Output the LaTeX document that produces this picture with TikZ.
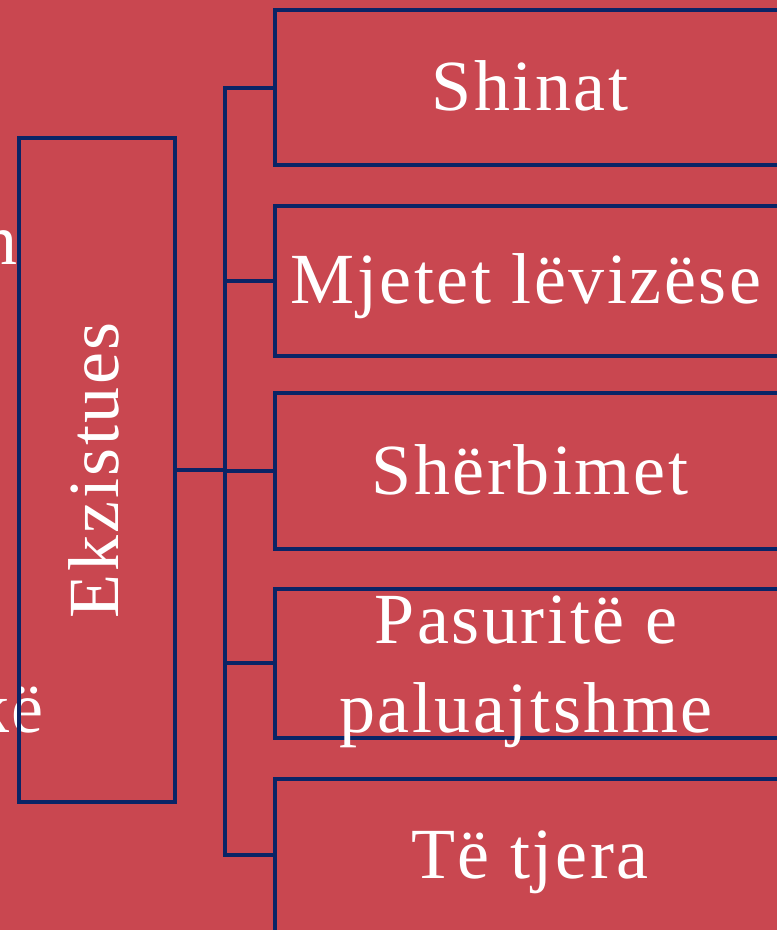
\documentclass[tikz,border=0pt]{standalone}
\usepackage{fontspec}
\setmainfont{Liberation Serif}[LetterSpace=3.5]
\definecolor{bg}{RGB}{201,71,80}
\definecolor{navy}{RGB}{10,36,102}
\begin{document}
\begin{tikzpicture}[x=1pt,y=-1pt,
  box/.style={draw=navy,line width=4pt,inner sep=0pt,outer sep=0pt},
  lbl/.style={text=white,font=\fontsize{72}{86}\selectfont,inner sep=0pt,outer sep=0pt},
  conn/.style={draw=navy,line width=4pt}]
\fill[bg] (0,0) rectangle (777,930);
\useasboundingbox (0,0) rectangle (777,930);
\begin{scope}
\clip (0,0) rectangle (777,930);
% left partial labels
\node[lbl,anchor=base east] (pn) at (17,264) {n};
\node[lbl,anchor=base east] (pk) at (44,732) {kë};
% main box
\node[box,minimum width=156pt,minimum height=664pt] (ek) at (96.5,470) {};
\node[lbl,rotate=90,anchor=base] (ekt) at (118,470) {Ekzistues};
% right boxes
\node[box,minimum width=510pt,minimum height=155pt] (b1) at (530,87.5) {};
\node[box,minimum width=510pt,minimum height=150pt] (b2) at (530,280.8) {};
\node[box,minimum width=510pt,minimum height=155.5pt] (b3) at (530,471) {};
\node[box,minimum width=510pt,minimum height=149pt] (b4) at (530,663.3) {};
\node[box,minimum width=510pt,minimum height=153pt] (b5) at (530,855) {};
% labels
\node[lbl,anchor=base] (t1) at (530,110) {Shinat};
\node[lbl,anchor=base] (t2) at (526,303) {Mjetet lëvizëse};
\node[lbl,anchor=base] (t3) at (530,494) {Shërbimet};
\node[lbl,anchor=base] (t4a) at (526,643) {Pasuritë e};
\node[lbl,anchor=base] (t4b) at (526,732) {paluajtshme};
\node[lbl,anchor=base] (t5) at (530,878) {Të tjera};
% connectors
\coordinate (j) at (225,470);
\draw[conn] (ek.east) -- (j);
\draw[conn] (b1.west) -- (b1.west -| j) -- (b5.west -| j) -- (b5.west);
\draw[conn] (b2.west) -- (b2.west -| j);
\draw[conn] (b3.west) -- (b3.west -| j);
\draw[conn] (b4.west) -- (b4.west -| j);
\end{scope}
\end{tikzpicture}
\end{document}
